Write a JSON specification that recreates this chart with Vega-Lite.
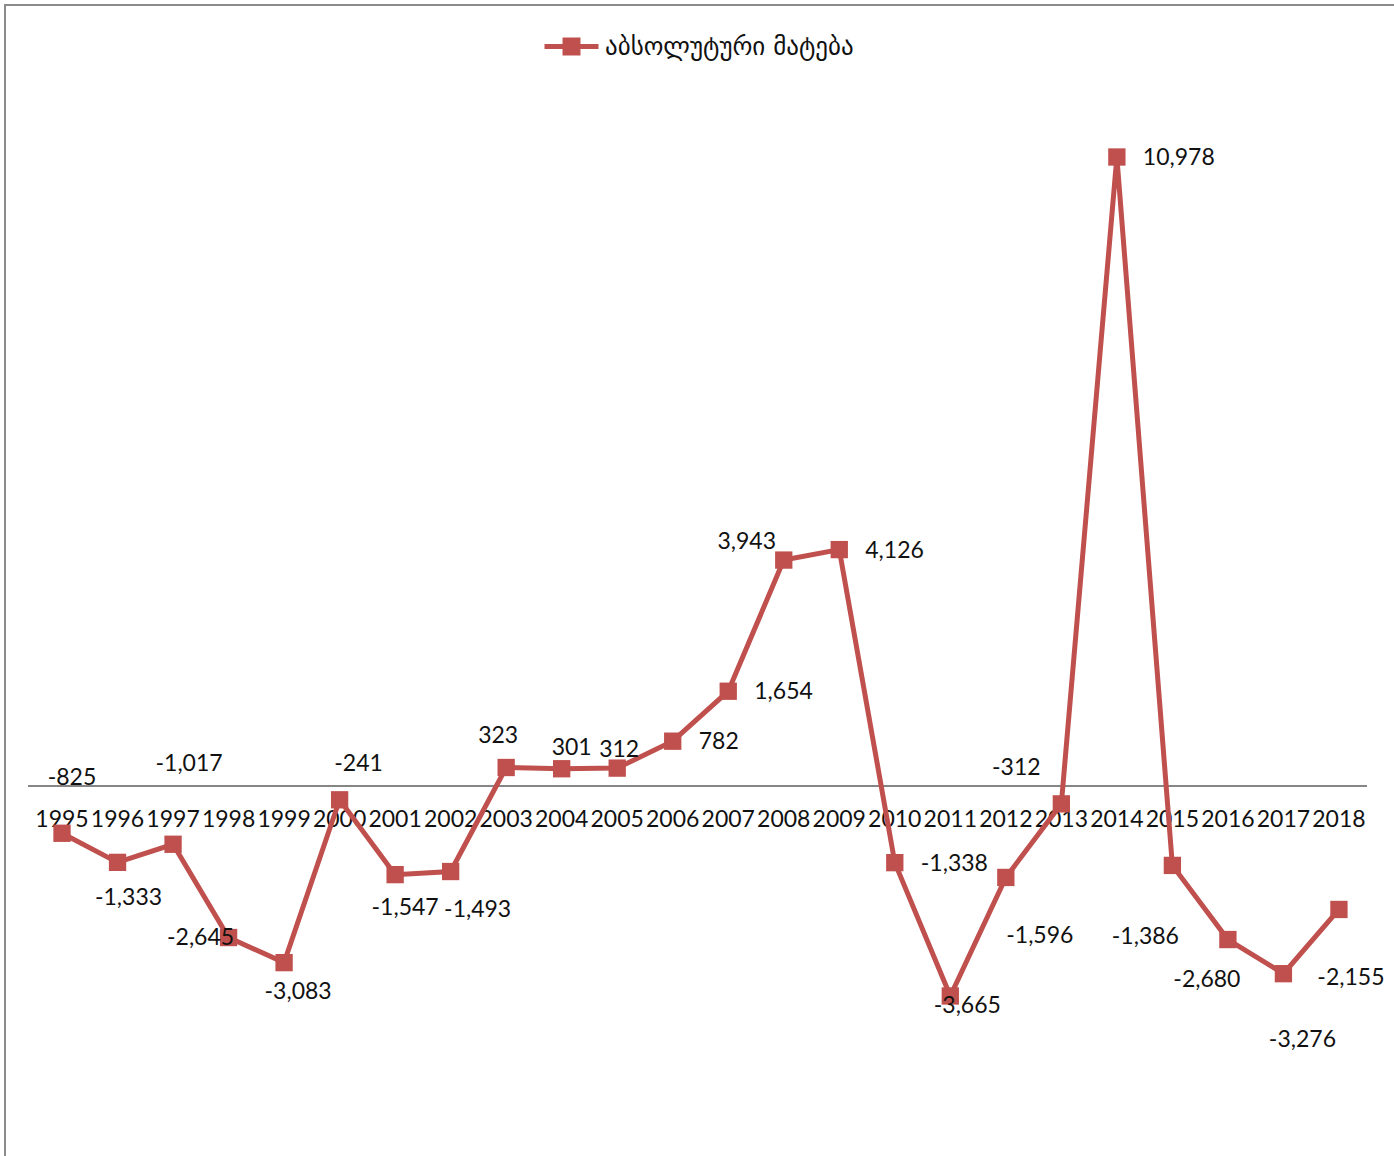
{
  "$schema": "https://vega.github.io/schema/vega-lite/v6.json",
  "autosize": "none",
  "width": 1400,
  "height": 1160,
  "padding": {"left": 5, "top": 5, "right": 0, "bottom": 0},
  "background": "white",
  "config": {
    "view": {"stroke": "#8c8c8c", "strokeWidth": 2},
    "text": {"font": "Lato", "fontSize": 23, "color": "#111111", "baseline": "middle", "align": "center"},
    "locale": {"number": {"decimal": ".", "thousands": ",", "grouping": [3], "currency": ["$", ""], "minus": "-"}}
  },
  "data": {
    "values": [
      {"year": 1995, "value": -825},
      {"year": 1996, "value": -1333},
      {"year": 1997, "value": -1017},
      {"year": 1998, "value": -2645},
      {"year": 1999, "value": -3083},
      {"year": 2000, "value": -241},
      {"year": 2001, "value": -1547},
      {"year": 2002, "value": -1493},
      {"year": 2003, "value": 323},
      {"year": 2004, "value": 301},
      {"year": 2005, "value": 312},
      {"year": 2006, "value": 782},
      {"year": 2007, "value": 1654},
      {"year": 2008, "value": 3943},
      {"year": 2009, "value": 4126},
      {"year": 2010, "value": -1338},
      {"year": 2011, "value": -3665},
      {"year": 2012, "value": -1596},
      {"year": 2013, "value": -312},
      {"year": 2014, "value": 10978},
      {"year": 2015, "value": -1386},
      {"year": 2016, "value": -2680},
      {"year": 2017, "value": -3276},
      {"year": 2018, "value": -2155}
    ]
  },
  "encoding": {
    "x": {"field": "year", "type": "quantitative", "scale": {"domain": [1993.973, 2019.19], "nice": false, "zero": false}, "axis": null},
    "y": {"field": "value", "type": "quantitative", "scale": {"domain": [-6615, 13631], "nice": false, "zero": false}, "axis": null}
  },
  "layer": [
    {
      "mark": {"type": "rule", "color": "#868686", "strokeWidth": 1.5},
      "encoding": {"x": {"datum": 1994.4, "type": "quantitative"}, "x2": {"datum": 2018.5}, "y": {"datum": 0, "type": "quantitative"}}
    },
    {
      "mark": {"type": "text", "dy": 34},
      "encoding": {
        "y": {"datum": 0, "type": "quantitative"},
        "text": {"field": "year", "type": "ordinal"}
      }
    },
    {
      "mark": {"type": "line", "color": "#C0504D", "strokeWidth": 5}
    },
    {
      "mark": {"type": "point", "shape": "square", "filled": true, "size": 300, "opacity": 1},
      "encoding": {
        "color": {
          "datum": "აბსოლუტური მატება",
          "type": "nominal",
          "scale": {"range": ["#C0504D"]},
          "legend": {
            "title": null,
            "orient": "none",
            "legendX": 537,
            "legendY": 12,
            "padding": 0,
            "symbolType": "M-1,0H1M-0.24,-0.24H0.24V0.24H-0.24Z",
            "symbolSize": 2916,
            "symbolFillColor": "#C0504D",
            "symbolStrokeColor": "#C0504D",
            "symbolStrokeWidth": 5,
            "symbolOpacity": 1,
            "labelFont": "DejaVu Sans",
            "labelFontSize": 25,
            "labelColor": "#111111",
            "labelOffset": 4,
            "labelLimit": 400
          }
        }
      }
    },
    {
      "transform": [{"filter": {"field": "year", "oneOf": [2006, 2007, 2009, 2010, 2014]}}],
      "mark": {"type": "text", "align": "left", "dx": 26, "dy": 1},
      "encoding": {"text": {"field": "value", "type": "quantitative", "format": ","}}
    },
    {"transform": [{"filter": "datum.year == 1995"}], "mark": {"type": "text", "dx": 10, "dy": -55}, "encoding": {"text": {"field": "value", "type": "quantitative", "format": ","}}},
    {"transform": [{"filter": "datum.year == 1996"}], "mark": {"type": "text", "dx": 11, "dy": 36}, "encoding": {"text": {"field": "value", "type": "quantitative", "format": ","}}},
    {"transform": [{"filter": "datum.year == 1997"}], "mark": {"type": "text", "dx": 16, "dy": -80}, "encoding": {"text": {"field": "value", "type": "quantitative", "format": ","}}},
    {"transform": [{"filter": "datum.year == 1998"}], "mark": {"type": "text", "dx": -28, "dy": 0}, "encoding": {"text": {"field": "value", "type": "quantitative", "format": ","}}},
    {"transform": [{"filter": "datum.year == 1999"}], "mark": {"type": "text", "dx": 14, "dy": 29}, "encoding": {"text": {"field": "value", "type": "quantitative", "format": ","}}},
    {"transform": [{"filter": "datum.year == 2000"}], "mark": {"type": "text", "dx": 19, "dy": -36}, "encoding": {"text": {"field": "value", "type": "quantitative", "format": ","}}},
    {"transform": [{"filter": "datum.year == 2001"}], "mark": {"type": "text", "dx": 10, "dy": 33}, "encoding": {"text": {"field": "value", "type": "quantitative", "format": ","}}},
    {"transform": [{"filter": "datum.year == 2002"}], "mark": {"type": "text", "dx": 27, "dy": 38}, "encoding": {"text": {"field": "value", "type": "quantitative", "format": ","}}},
    {"transform": [{"filter": "datum.year == 2003"}], "mark": {"type": "text", "dx": -8, "dy": -31}, "encoding": {"text": {"field": "value", "type": "quantitative", "format": ","}}},
    {"transform": [{"filter": "datum.year == 2004"}], "mark": {"type": "text", "dx": 10, "dy": -21}, "encoding": {"text": {"field": "value", "type": "quantitative", "format": ","}}},
    {"transform": [{"filter": "datum.year == 2005"}], "mark": {"type": "text", "dx": 2, "dy": -18}, "encoding": {"text": {"field": "value", "type": "quantitative", "format": ","}}},
    {"transform": [{"filter": "datum.year == 2008"}], "mark": {"type": "text", "dx": -37, "dy": -18}, "encoding": {"text": {"field": "value", "type": "quantitative", "format": ","}}},
    {"transform": [{"filter": "datum.year == 2011"}], "mark": {"type": "text", "dx": 17, "dy": 10}, "encoding": {"text": {"field": "value", "type": "quantitative", "format": ","}}},
    {"transform": [{"filter": "datum.year == 2012"}], "mark": {"type": "text", "dx": 34, "dy": 59}, "encoding": {"text": {"field": "value", "type": "quantitative", "format": ","}}},
    {"transform": [{"filter": "datum.year == 2013"}], "mark": {"type": "text", "dx": -45, "dy": -36}, "encoding": {"text": {"field": "value", "type": "quantitative", "format": ","}}},
    {"transform": [{"filter": "datum.year == 2015"}], "mark": {"type": "text", "dx": -27, "dy": 72}, "encoding": {"text": {"field": "value", "type": "quantitative", "format": ","}}},
    {"transform": [{"filter": "datum.year == 2016"}], "mark": {"type": "text", "dx": -21, "dy": 40}, "encoding": {"text": {"field": "value", "type": "quantitative", "format": ","}}},
    {"transform": [{"filter": "datum.year == 2017"}], "mark": {"type": "text", "dx": 19, "dy": 66}, "encoding": {"text": {"field": "value", "type": "quantitative", "format": ","}}},
    {"transform": [{"filter": "datum.year == 2018"}], "mark": {"type": "text", "dx": 12, "dy": 69}, "encoding": {"text": {"field": "value", "type": "quantitative", "format": ","}}}
  ]
}
